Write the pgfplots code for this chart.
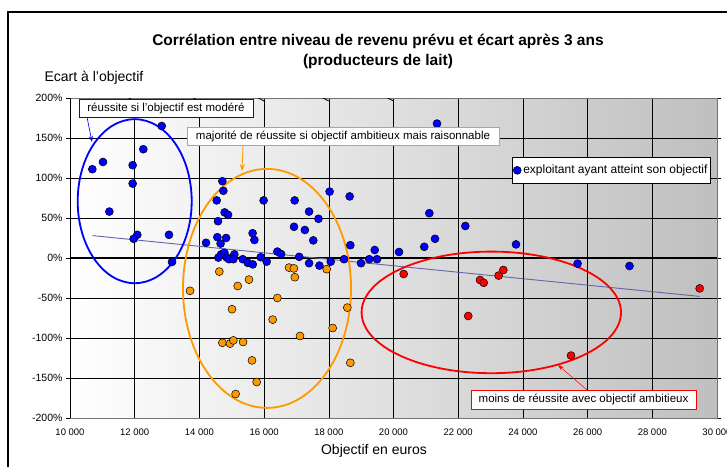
\documentclass[border=0pt]{standalone}
\usepackage{fontspec}
\setmainfont{Liberation Sans}
\usepackage{pgfplots}
\pgfplotsset{compat=1.18}
\usetikzlibrary{arrows.meta}

\definecolor{xblue}{RGB}{0,0,255}
\definecolor{xorange}{RGB}{255,153,0}
\definecolor{xred}{RGB}{255,0,0}
\definecolor{trend}{RGB}{100,100,170}

\pgfplotstableread{
x y
10690 111
11020 120
12835 165
12266 136
11937 116
11937 93
11216 58
12080 29
11968 24
13060 29
13153 -5
14710 96
14740 84
14535 72
14780 57
14885 54
14575 46
14555 26
14825 25
14205 19
14655 18
15645 31
15700 22.5
15985 72
16945 72
17390 58
17680 49
16925 39
17260 35
17520 22
18025 83
18645 77
18665 16
19420 10
14585 0.5
14670 4.5
14775 6.5
14845 0.5
14915 -1.5
15080 4.5
15050 -1.5
15340 -1.5
15495 -6
15650 -8
15895 1
16080 -4.5
16410 8
16525 5
17085 1.5
17390 -6.5
17710 -9.5
18060 -4.5
18470 -1.5
18995 -6.5
19250 -1.5
19490 -1.5
21345 168
21107 56
22220 40
20950 14
21283 24
23787 17
20170 7.5
25690 -7
27295 -10
}\blue

\pgfplotstableread{
x y
13710 -41
14615 -17
15184 -35
15533 -27
15008 -64
16410 -50
16265 -77
14710 -106
14946 -107
15050 -103
15350 -105
15626 -128
15770 -155
15120 -170
17110 -97.5
18120 -87.5
18573 -62
18665 -131
16770 -12
16920 -13
16950 -24
17935 -14
}\orange

\pgfplotstableread{
x y
20315 -20
22675 -27.5
22790 -31
23250 -22
23395 -15
22310 -72.5
25487 -122
29465 -38
}\red

\pgfplotstableread{
x y
10690 28
29465 -48
}\trendtab

\begin{document}
\begin{tikzpicture}[x=1pt,y=1pt]
\useasboundingbox (0,0) rectangle (727,466);
\fill[white] (0,0) rectangle (727,466);
\draw[line width=2.2pt] (8,-2) -- (8,454) -- (740,454);
\node[font=\fontsize{15.5}{18}\selectfont\bfseries] at (378,425) {Corrélation entre niveau de revenu prévu et écart après 3 ans};
\node[font=\fontsize{15.5}{18}\selectfont\bfseries] at (378,405) {(producteurs de lait)};
\node[font=\fontsize{14}{16}\selectfont] at (94,388) {Ecart à l'objectif};
\node[font=\fontsize{14}{16}\selectfont] at (374,15) {Objectif en euros};

\begin{axis}[
  at={(70pt,48pt)}, anchor=south west, scale only axis,
  width=647pt, height=320pt,
  xmin=10000, xmax=30000, ymin=-200, ymax=200,
  scaled x ticks=false, scaled y ticks=false,
  xtick={10000,12000,14000,16000,18000,20000,22000,24000,26000,28000,30000},
  xticklabels={10 000,12 000,14 000,16 000,18 000,20 000,22 000,24 000,26 000,28 000,30 000},
  ytick={-200,-150,-100,-50,0,50,100,150,200},
  yticklabels={-200\%,-150\%,-100\%,-50\%,0\%,50\%,100\%,150\%,200\%},
  grid=major, major grid style={black, line width=0.6pt},
  axis background/.style={left color=white, right color=black!25},
  axis line style={black!55, line width=0.8pt},
  tick align=outside,
  xtick style={draw=none},
  ytick style={black, line width=0.6pt},
  major tick length=4pt,
  x tick label style={font=\fontsize{9.5}{11}\selectfont, yshift=-3pt},
  y tick label style={font=\fontsize{10.5}{12}\selectfont},
  legend style={at={(0.683,0.816)}, anchor=north west, draw=black, fill=white,
    font=\fontsize{12}{14}\selectfont, inner xsep=1pt, inner ysep=6pt, line width=0.7pt},
  legend cell align=left,
]
\draw[black, line width=1.6pt] (axis cs:10000,0) -- (axis cs:30000,0);
\draw[black, line width=0.8pt] (axis cs:10000,-200) -- (axis cs:10000,200);
\pgfplotsinvokeforeach{12000,14000,16000,18000,20000,22000,24000,26000,28000,30000}{
  \draw[black, line width=0.8pt] (axis cs:#1,0) ++(0,-3pt) -- ++(0,6pt);
}
\addplot[only marks, mark=*, mark size=4pt, mark options={fill=xblue, draw=black, line width=0.5pt}] table[x=x,y=y] {\blue};
\addlegendentry{exploitant ayant atteint son objectif}
\addplot[forget plot, only marks, mark=*, mark size=4pt, mark options={fill=xorange, draw=black, line width=0.5pt}] table[x=x,y=y] {\orange};
\addplot[forget plot, only marks, mark=*, mark size=4pt, mark options={fill=xred, draw=black, line width=0.5pt}] table[x=x,y=y] {\red};
\addplot[forget plot, trend, line width=0.9pt, no marks] table[x=x,y=y] {\trendtab};
\draw[xblue, line width=1.8pt] (axis cs:12000,71) ellipse [x radius=57pt, y radius=82pt];
\draw[xorange, line width=1.8pt] (axis cs:16090,-38) ellipse [x radius=84pt, y radius=119.5pt];
\draw[xred, line width=1.8pt] (axis cs:23023,-68) ellipse [x radius=129.7pt, y radius=60.8pt];
\end{axis}

% annotations
\draw[xblue, line width=0.6pt, -{Stealth[length=6pt,width=4pt]}] (87,349) -- (92,324);
\node[draw=xblue, fill=white, line width=0.8pt, minimum width=174pt, minimum height=18pt, inner sep=0pt,
  font=\fontsize{11.5}{13}\selectfont] at (166,358) {réussite si l'objectif est modéré};
\draw[xorange, line width=0.8pt, -{Stealth[length=7pt,width=5pt]}] (243,321) -- (242,295);
\node[draw=xorange, fill=white, line width=0.8pt, minimum width=312pt, minimum height=18pt, inner sep=0pt,
  font=\fontsize{11.5}{13}\selectfont] at (343,330) {majorité de réussite si objectif ambitieux mais raisonnable};
\draw[xred, line width=0.5pt, -{Stealth[length=6pt,width=4pt]}] (587,76) -- (558,101);
\node[draw=xred, fill=white, line width=0.8pt, minimum width=225pt, minimum height=19pt, inner sep=0pt,
  font=\fontsize{11.5}{13}\selectfont] at (583.5,66.5) {moins de réussite avec objectif ambitieux};
\end{tikzpicture}
\end{document}
